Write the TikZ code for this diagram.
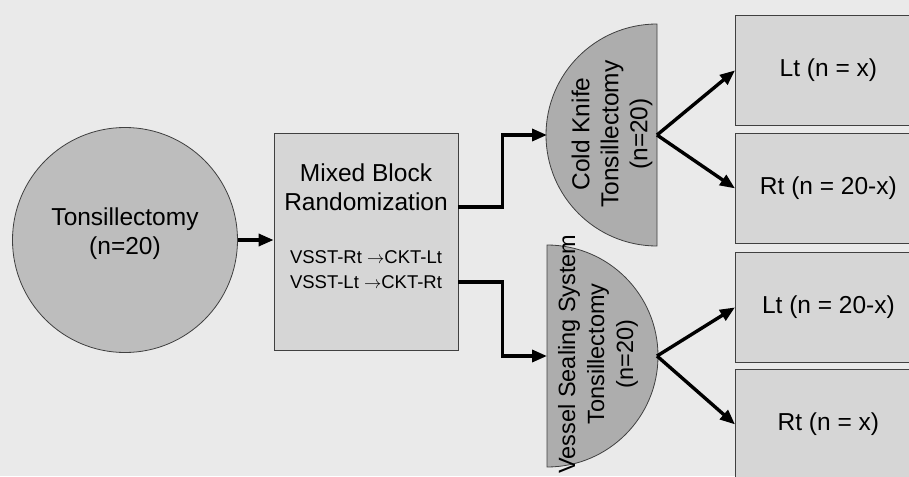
\documentclass[tikz,border=0pt]{standalone}
\usepackage{fontspec}
\setmainfont{Liberation Sans}
\usetikzlibrary{arrows.meta,positioning}
\definecolor{fondo}{HTML}{EAEAEA}
\definecolor{gris}{HTML}{BDBDBD}
\definecolor{grisosc}{HTML}{ADADAD}
\definecolor{grisclaro}{HTML}{D6D6D6}

\begin{document}
\begin{tikzpicture}[x=1pt,y=-1pt,
    caja/.style={draw=black!75, fill=grisclaro, line width=0.8pt, inner sep=0pt},
    flecha/.style={-{Triangle[length=15pt,width=12pt]}, line width=3.4pt},
    texto/.style={font=\fontsize{24.5}{29}\selectfont, align=center},
    chico/.style={font=\fontsize{18.5}{25}\selectfont, align=center}]
    % Fondo
    \fill[fondo] (0,0) rectangle (909,476);
    \useasboundingbox (0,0) rectangle (909,476);

    % Circulo y bloque
    \node[circle, draw=black!75, fill=gris, line width=0.8pt, minimum size=225pt] (tons) at (125,240) {};
    \node[texto] (tonstxt) at (125,234) {Tonsillectomy\\(n=20)};
    \node[caja, minimum width=184pt, minimum height=217pt] (mbr) at (366,241.5) {};
    \node[texto] (mbrtxt) at (366,187) {Mixed Block\\Randomization};
    \node[chico] (regla) at (366,270) {VSST-Rt $\rightarrow$CKT-Lt\\VSST-Lt $\rightarrow$CKT-Rt};

    % Semicirculos
    \filldraw[draw=black!75, fill=grisosc, line width=0.8pt] (657,246) arc (90:270:111) -- cycle;
    \filldraw[draw=black!75, fill=grisosc, line width=0.8pt] (547,245) arc (-90:90:111) -- cycle;
    \coordinate (ckw) at (547,135);
    \coordinate (cke) at (657,135);
    \coordinate (vsw) at (547,356);
    \coordinate (vse) at (657,356);
    \node[texto, rotate=90] (cktxt) at (612,134) {Cold Knife\\Tonsillectomy\\(n=20)};
    \node[texto, rotate=90, font=\fontsize{23.5}{29}\selectfont] (vstxt) at (598,354) {Vessel Sealing System\\Tonsillectomy\\(n=20)};

    % Cajas de la derecha
    \node[caja, texto, minimum width=186pt, minimum height=110pt, anchor=north west] (lt1) at (735,15) {Lt (n = x)};
    \node[caja, texto, minimum width=186pt, minimum height=110pt, anchor=north west] (rt1) at (735,133) {Rt (n = 20-x)};
    \node[caja, texto, minimum width=186pt, minimum height=110pt, anchor=north west] (lt2) at (735,252) {Lt (n = 20-x)};
    \node[caja, texto, minimum width=186pt, minimum height=110pt, anchor=north west] (rt2) at (735,369) {Rt (n = x)};

    % Flechas
    \draw[flecha] (tons.east) -- (tons.east -| mbr.west);
    \draw[flecha] ([yshift=34.5pt]mbr.east) -- ++(44,0) |- (ckw);
    \draw[flecha] ([yshift=-40.5pt]mbr.east) -- ++(44,0) |- (vsw);
    \draw[flecha] (cke) -- (lt1.west);
    \draw[flecha] (cke) -- (rt1.west);
    \draw[flecha] (vse) -- (lt2.west);
    \draw[flecha] (vse) -- (rt2.west);
\end{tikzpicture}
\end{document}
